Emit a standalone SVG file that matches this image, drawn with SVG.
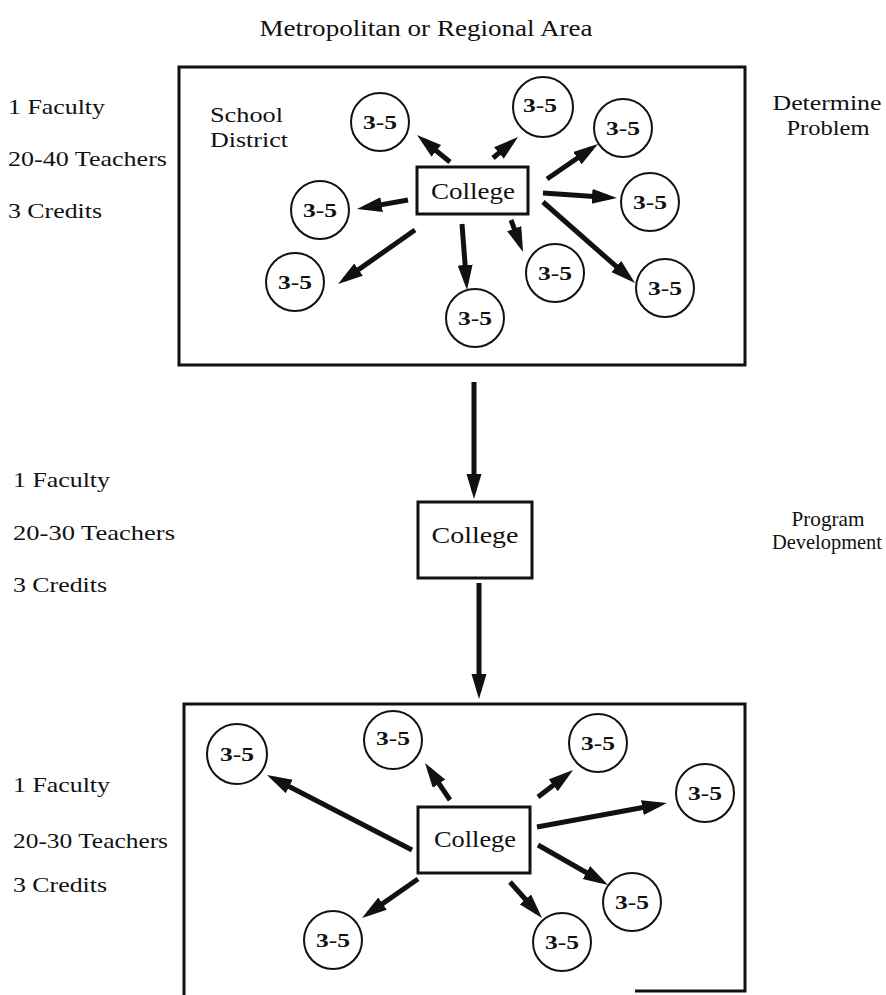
<svg xmlns="http://www.w3.org/2000/svg" width="886" height="995" viewBox="0 0 886 995">
<style>
text{font-family:"Liberation Serif","Times New Roman",serif;fill:#111}
.lbl{font-size:22px}
.ttl{font-size:24px}
.col{font-size:23px;text-anchor:middle}
.num{font-size:19px;font-weight:bold;text-anchor:middle}
.rt{font-size:21px;text-anchor:middle}
.frame{fill:none;stroke:#111;stroke-width:3}
.cbox{fill:#fff;stroke:#111;stroke-width:3}
.circ{fill:#fff;stroke:#111;stroke-width:2}
.arr{stroke:#111;stroke-width:5;fill:none;marker-end:url(#ah)}
</style>
<defs>
<marker id="ah" markerUnits="userSpaceOnUse" markerWidth="26" markerHeight="16" refX="17" refY="7.5" orient="auto">
<path d="M0,0 L25,7.5 L0,15 z" fill="#111"/>
</marker>
</defs>
<rect width="886" height="995" fill="#fff"/>

<text class="ttl" x="426" y="36" text-anchor="middle" textLength="333" lengthAdjust="spacingAndGlyphs">Metropolitan or Regional Area</text>

<g id="labels-left">
<text class="lbl" x="8" y="114" textLength="97" lengthAdjust="spacingAndGlyphs">1 Faculty</text>
<text class="lbl" x="8" y="166" textLength="159" lengthAdjust="spacingAndGlyphs">20-40 Teachers</text>
<text class="lbl" x="8" y="218" textLength="94" lengthAdjust="spacingAndGlyphs">3 Credits</text>
<text class="lbl" x="13" y="487" textLength="97" lengthAdjust="spacingAndGlyphs">1 Faculty</text>
<text class="lbl" x="13" y="540" textLength="162" lengthAdjust="spacingAndGlyphs">20-30 Teachers</text>
<text class="lbl" x="13" y="592" textLength="94" lengthAdjust="spacingAndGlyphs">3 Credits</text>
<text class="lbl" x="13" y="792" textLength="97" lengthAdjust="spacingAndGlyphs">1 Faculty</text>
<text class="lbl" x="13" y="848" textLength="155" lengthAdjust="spacingAndGlyphs">20-30 Teachers</text>
<text class="lbl" x="13" y="892" textLength="94" lengthAdjust="spacingAndGlyphs">3 Credits</text>
</g>

<g id="labels-right">
<text class="rt" x="827" y="110" textLength="109" lengthAdjust="spacingAndGlyphs">Determine</text>
<text class="rt" x="828" y="135" textLength="83" lengthAdjust="spacingAndGlyphs">Problem</text>
<text class="rt" x="828" y="526" textLength="73" lengthAdjust="spacingAndGlyphs">Program</text>
<text class="rt" x="827" y="549" textLength="110" lengthAdjust="spacingAndGlyphs">Development</text>
</g>

<g id="area-top">
<rect class="frame" x="179" y="67" width="566" height="298"/>
<text class="lbl" x="210" y="122" textLength="73" lengthAdjust="spacingAndGlyphs">School</text>
<text class="lbl" x="210" y="147" textLength="78" lengthAdjust="spacingAndGlyphs">District</text>
</g>

<g id="area-bottom">
<path class="frame" d="M184,995 V704 H745 V991 H635"/>
</g>

<g id="connectors">
<line class="arr" x1="450" y1="162" x2="423.2" y2="140.1"/>
<line class="arr" x1="408" y1="200" x2="364.9" y2="207.6"/>
<line class="arr" x1="415" y1="230" x2="344.6" y2="279.4"/>
<line class="arr" x1="462" y1="224" x2="466.4" y2="282"/>
<line class="arr" x1="493" y1="158" x2="511.9" y2="142.2"/>
<line class="arr" x1="547" y1="179" x2="591.4" y2="148.5"/>
<line class="arr" x1="543" y1="193" x2="609" y2="197.5"/>
<line class="arr" x1="543" y1="202" x2="629" y2="277.7"/>
<line class="arr" x1="511" y1="220" x2="520.2" y2="244.5"/>
<line class="arr" x1="474" y1="382" x2="474" y2="491"/>
<line class="arr" x1="479" y1="583" x2="479" y2="691"/>
<line class="arr" x1="412" y1="850" x2="274.1" y2="778.7"/>
<line class="arr" x1="450" y1="800" x2="429.5" y2="769.6"/>
<line class="arr" x1="418" y1="879" x2="368.6" y2="913.4"/>
<line class="arr" x1="538" y1="797" x2="566.7" y2="774.9"/>
<line class="arr" x1="537" y1="827" x2="659.1" y2="804.5"/>
<line class="arr" x1="538" y1="845" x2="601.1" y2="881"/>
<line class="arr" x1="510" y1="882" x2="536.7" y2="912"/>
</g>

<g id="college-top"><rect class="cbox" x="417" y="167" width="111" height="47"/><text class="col" x="473" y="199" textLength="84" lengthAdjust="spacingAndGlyphs">College</text></g>
<g id="college-mid"><rect class="cbox" x="418" y="502" width="114" height="76"/><text class="col" x="475" y="543" textLength="87" lengthAdjust="spacingAndGlyphs">College</text></g>
<g id="college-bottom"><rect class="cbox" x="418" y="807" width="112" height="66"/><text class="col" x="475" y="847" textLength="82" lengthAdjust="spacingAndGlyphs">College</text></g>

<g id="t1"><circle class="circ" cx="380" cy="122" r="29"/><text class="num" x="380" y="129" textLength="34" lengthAdjust="spacingAndGlyphs">3-5</text></g>
<g id="t2"><circle class="circ" cx="320" cy="210" r="29"/><text class="num" x="320" y="217" textLength="34" lengthAdjust="spacingAndGlyphs">3-5</text></g>
<g id="t3"><circle class="circ" cx="295" cy="282" r="29"/><text class="num" x="295" y="289" textLength="34" lengthAdjust="spacingAndGlyphs">3-5</text></g>
<g id="t4"><circle class="circ" cx="543" cy="107" r="30"/><text class="num" x="540" y="112" textLength="34" lengthAdjust="spacingAndGlyphs">3-5</text></g>
<g id="t5"><circle class="circ" cx="623" cy="128" r="29"/><text class="num" x="623" y="135" textLength="34" lengthAdjust="spacingAndGlyphs">3-5</text></g>
<g id="t6"><circle class="circ" cx="650" cy="202" r="29"/><text class="num" x="650" y="209" textLength="34" lengthAdjust="spacingAndGlyphs">3-5</text></g>
<g id="t7"><circle class="circ" cx="665" cy="288" r="29"/><text class="num" x="665" y="295" textLength="34" lengthAdjust="spacingAndGlyphs">3-5</text></g>
<g id="t8"><circle class="circ" cx="555" cy="273" r="29"/><text class="num" x="555" y="280" textLength="34" lengthAdjust="spacingAndGlyphs">3-5</text></g>
<g id="t9"><circle class="circ" cx="475" cy="318" r="29"/><text class="num" x="475" y="325" textLength="34" lengthAdjust="spacingAndGlyphs">3-5</text></g>

<g id="b1"><circle class="circ" cx="237" cy="754" r="30"/><text class="num" x="237" y="761" textLength="34" lengthAdjust="spacingAndGlyphs">3-5</text></g>
<g id="b2"><circle class="circ" cx="393" cy="740" r="29"/><text class="num" x="393" y="745" textLength="34" lengthAdjust="spacingAndGlyphs">3-5</text></g>
<g id="b3"><circle class="circ" cx="333" cy="940" r="29"/><text class="num" x="333" y="947" textLength="34" lengthAdjust="spacingAndGlyphs">3-5</text></g>
<g id="b4"><circle class="circ" cx="598" cy="743" r="29"/><text class="num" x="598" y="750" textLength="34" lengthAdjust="spacingAndGlyphs">3-5</text></g>
<g id="b5"><circle class="circ" cx="705" cy="793" r="29"/><text class="num" x="705" y="800" textLength="34" lengthAdjust="spacingAndGlyphs">3-5</text></g>
<g id="b6"><circle class="circ" cx="632" cy="902" r="29"/><text class="num" x="632" y="909" textLength="34" lengthAdjust="spacingAndGlyphs">3-5</text></g>
<g id="b7"><circle class="circ" cx="562" cy="942" r="29"/><text class="num" x="562" y="949" textLength="34" lengthAdjust="spacingAndGlyphs">3-5</text></g>
</svg>
